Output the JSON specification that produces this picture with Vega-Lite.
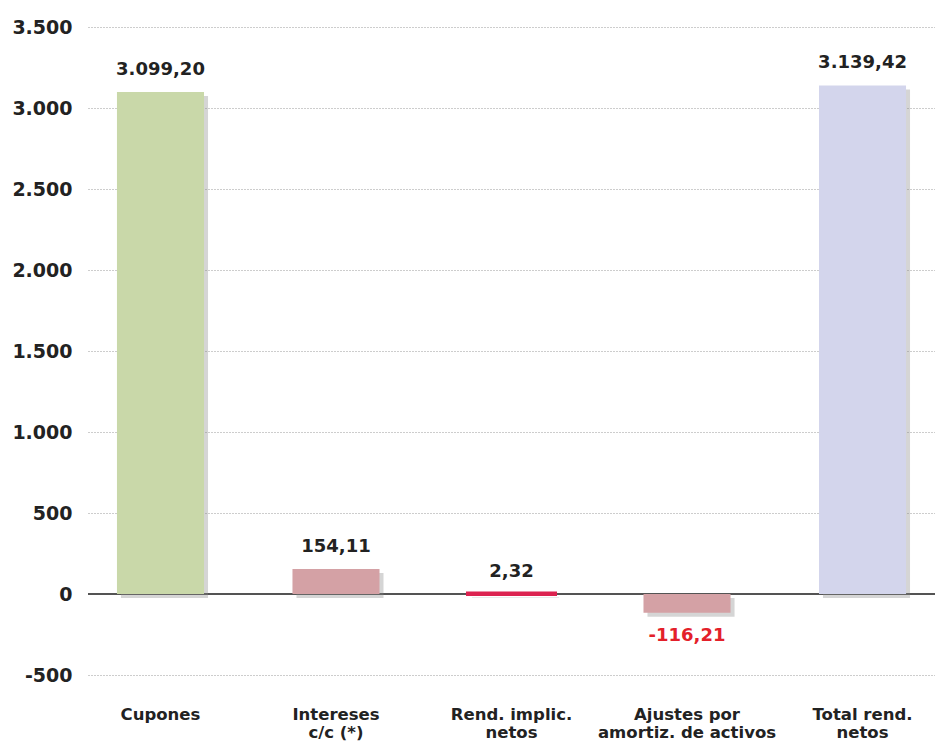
{
  "$schema": "https://vega.github.io/schema/vega-lite/v6.json",
  "width": 847,
  "height": 648,
  "autosize": "none",
  "padding": {"left": 88, "top": 27, "right": 0, "bottom": 67},
  "background": "white",
  "config": {
    "locale": {"number": {"decimal": ",", "thousands": ".", "grouping": [3], "currency": ["", "€"], "minus": "-"}},
    "view": {"stroke": null},
    "font": "DejaVu Sans"
  },
  "data": {
    "values": [
      {"cat": "Cupones", "value": 3099.20, "color": "#c9d8a9", "labelColor": "#222222"},
      {"cat": "Intereses|c/c (*)", "value": 154.11, "color": "#d4a1a5", "labelColor": "#222222"},
      {"cat": "Rend. implic.|netos", "value": 2.32, "color": "#dc2350", "labelColor": "#222222"},
      {"cat": "Ajustes por|amortiz. de activos", "value": -116.21, "color": "#d4a1a5", "labelColor": "#e3202a"},
      {"cat": "Total rend.|netos", "value": 3139.42, "color": "#d3d5ec", "labelColor": "#222222"}
    ]
  },
  "encoding": {
    "x": {
      "field": "cat", "type": "nominal", "sort": null,
      "scale": {"paddingInner": 0.504, "paddingOuter": 0.165},
      "axis": {
        "title": null, "domain": false, "ticks": false, "labelAngle": 0,
        "labelExpr": "split(datum.value, '|')", "labelLimit": 0,
        "labelFont": "DejaVu Sans", "labelFontWeight": "bold", "labelFontSize": 16.5,
        "labelColor": "#222222", "labelPadding": 31, "labelLineHeight": 18, "labelBaseline": "top"
      }
    }
  },
  "layer": [
    {
      "mark": {"type": "rule", "color": "#555555", "strokeWidth": 1.5},
      "encoding": {"y": {"datum": 0, "type": "quantitative"}, "x": null}
    },
    {
      "mark": {"type": "bar", "color": "#888888", "opacity": 0.35, "xOffset": 4, "yOffset": 4},
      "encoding": {
        "y": {
          "field": "value", "type": "quantitative",
          "scale": {"domain": [-500, 3500], "nice": false},
          "axis": {
            "title": null, "domain": false, "ticks": false, "values": [-500, 0, 500, 1000, 1500, 2000, 2500, 3000, 3500],
            "format": ",d", "labelFont": "DejaVu Sans", "labelFontWeight": "bold", "labelFontSize": 19,
            "labelColor": "#222222", "labelPadding": 16,
            "grid": true, "gridColor": "#9a9a9a", "gridDash": [1, 2], "gridWidth": 1
          }
        }
      }
    },
    {
      "mark": {"type": "bar", "strokeWidth": 0},
      "encoding": {
        "y": {"field": "value", "type": "quantitative"},
        "color": {"field": "color", "type": "nominal", "scale": null},
        "stroke": {"field": "color", "type": "nominal", "scale": null},
        "strokeWidth": {"condition": {"test": "abs(datum.value) < 10", "value": 4}, "value": 0}
      }
    },
    {
      "transform": [{"filter": "datum.value >= 0"}],
      "mark": {"type": "text", "fontWeight": "bold", "fontSize": 18, "font": "DejaVu Sans", "baseline": "bottom", "dy": -13},
      "encoding": {
        "y": {"field": "value", "type": "quantitative"},
        "text": {"field": "value", "type": "quantitative", "format": ",.2f"},
        "color": {"field": "labelColor", "type": "nominal", "scale": null}
      }
    },
    {
      "transform": [{"filter": "datum.value < 0"}],
      "mark": {"type": "text", "fontWeight": "bold", "fontSize": 18, "font": "DejaVu Sans", "baseline": "top", "dy": 14},
      "encoding": {
        "y": {"field": "value", "type": "quantitative"},
        "text": {"field": "value", "type": "quantitative", "format": ",.2f"},
        "color": {"field": "labelColor", "type": "nominal", "scale": null}
      }
    }
  ]
}
